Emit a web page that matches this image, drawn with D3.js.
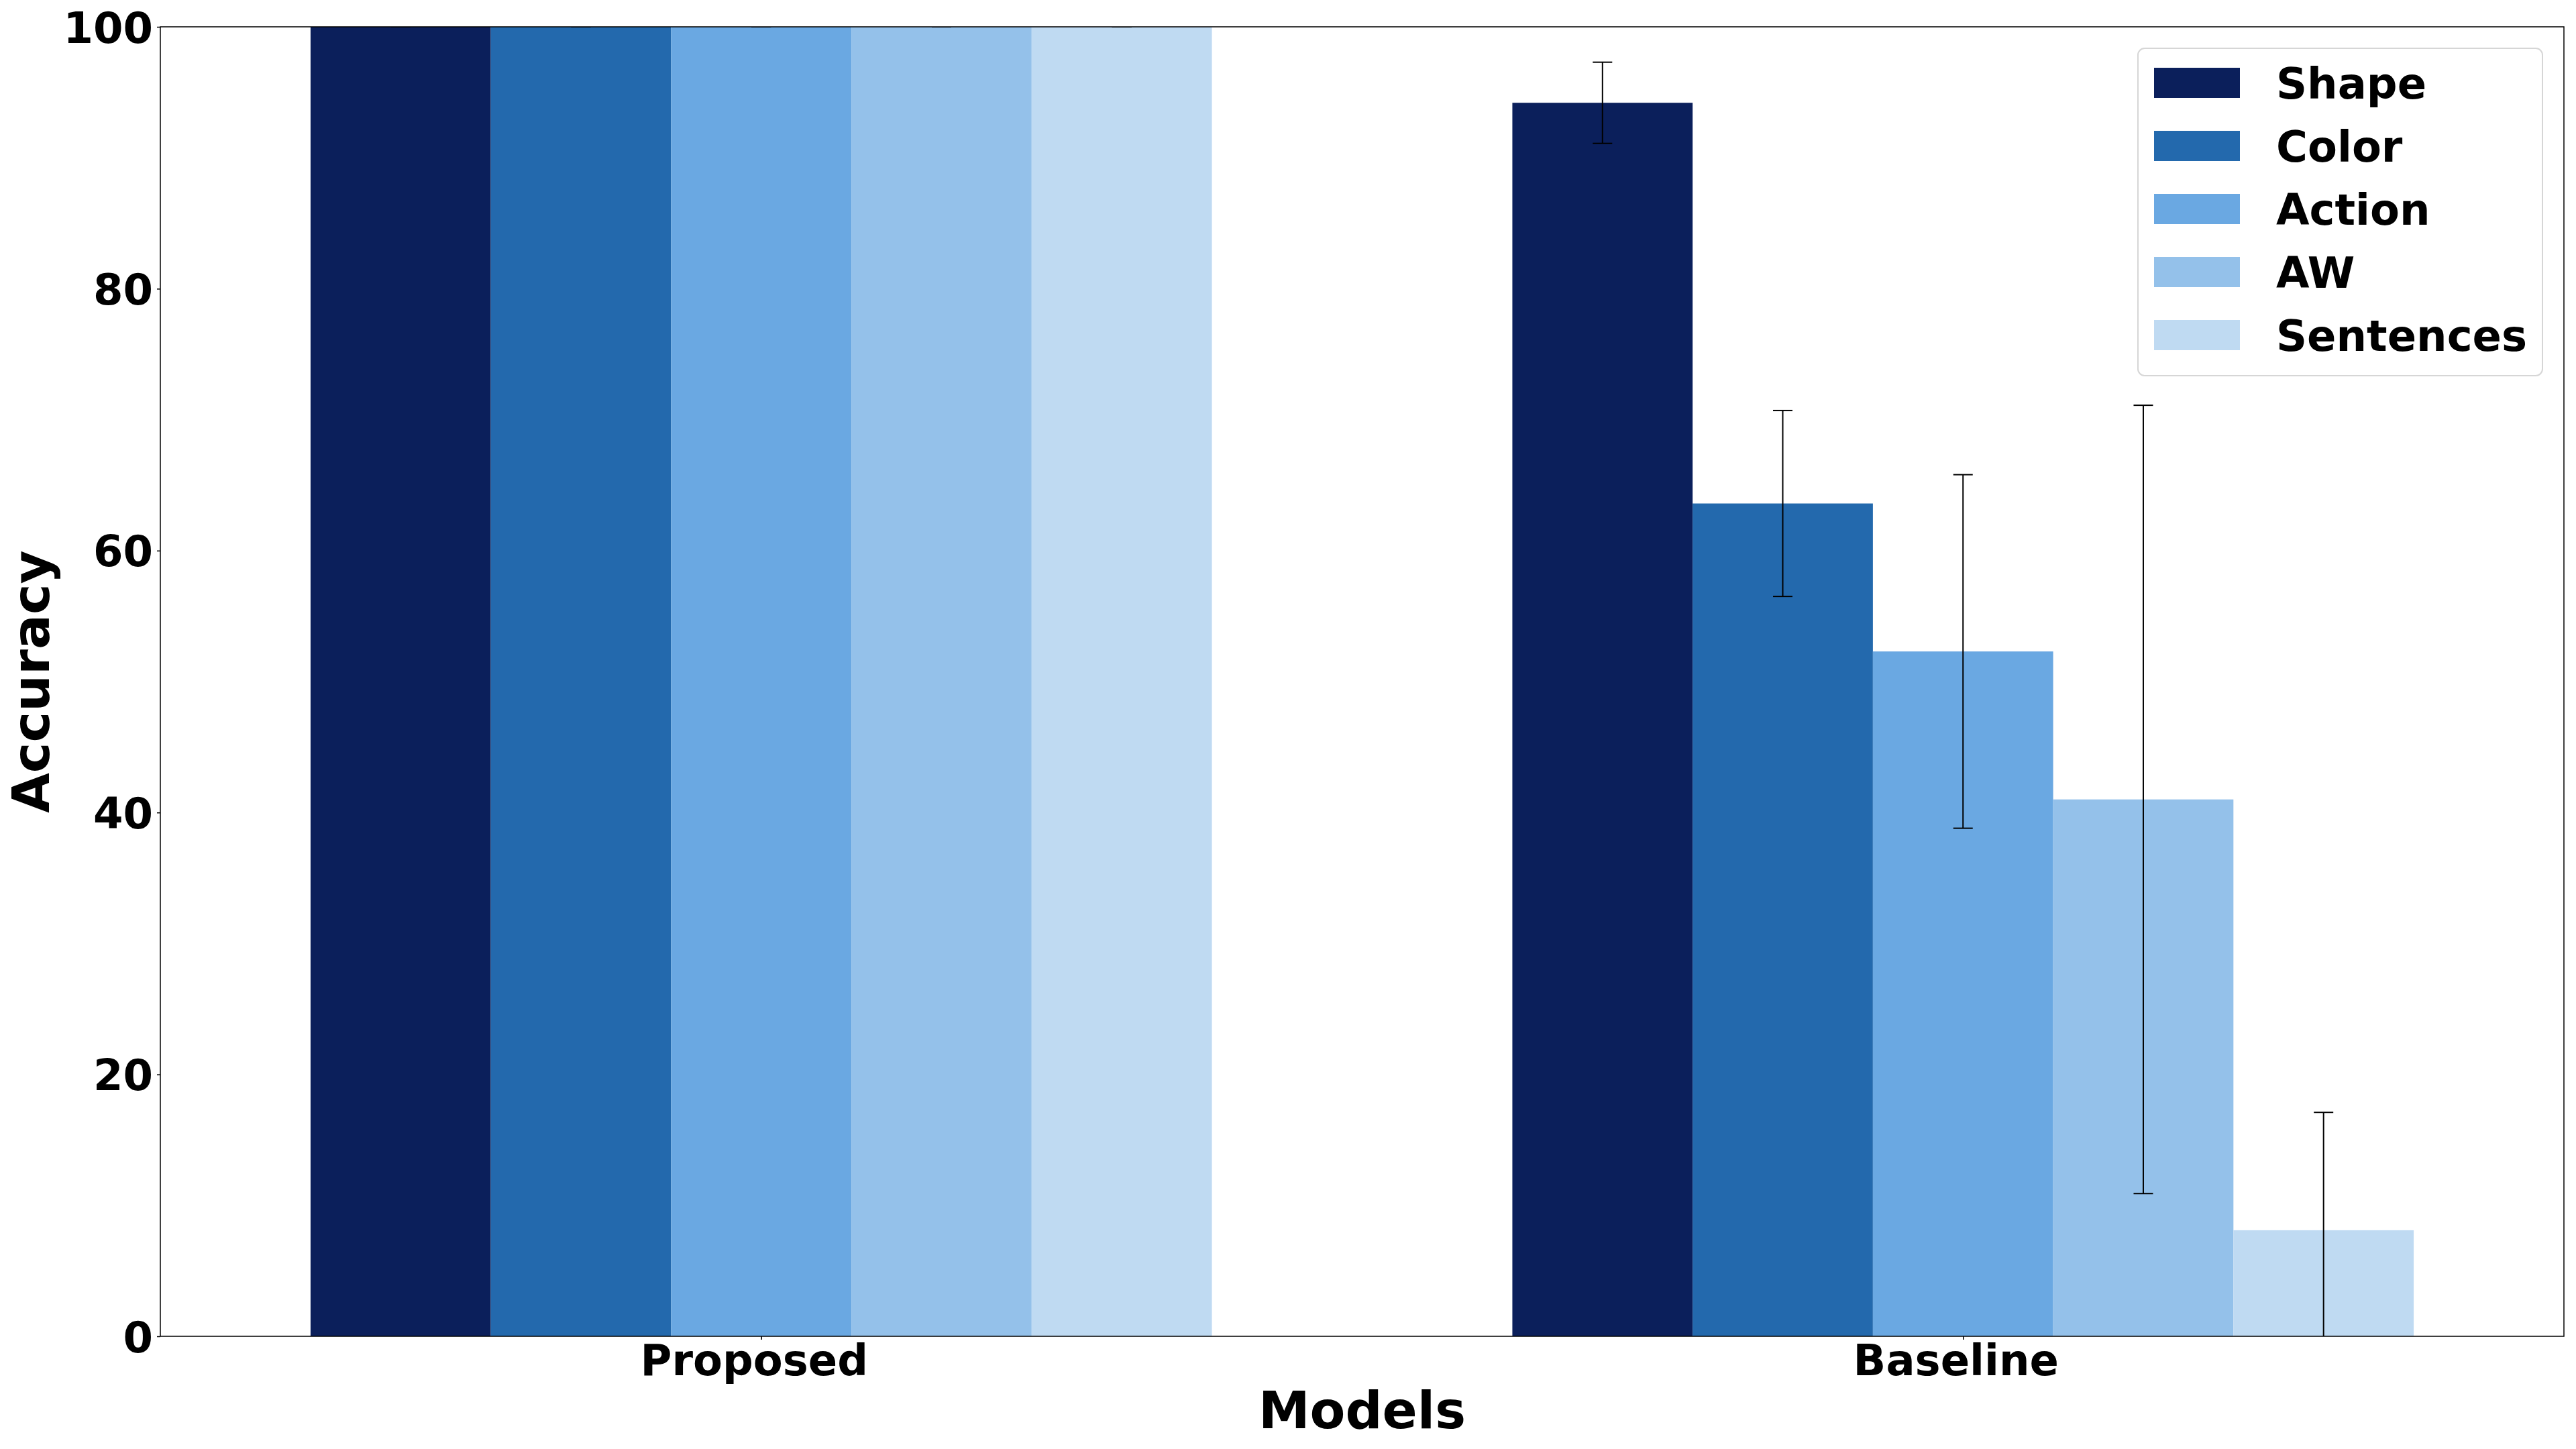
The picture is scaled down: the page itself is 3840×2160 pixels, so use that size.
<!DOCTYPE html>
<html>
<head>
<meta charset="utf-8">
<script src="https://cdn.jsdelivr.net/npm/d3@7"></script>
<style>
  body { margin: 0; background: #fff; }
  text { font-family: "DejaVu Sans", sans-serif; font-weight: bold; }
</style>
</head>
<body>
<div id="chart"></div>
<script>
// data
const models = ["Proposed", "Baseline"];
const tasks = ["Shape", "Color", "Action", "AW", "Sentences"];
const proposedAcc = [100, 100, 100, 100, 100];
const proposedErr = [0, 0, 0, 0, 0];
const baselineAcc = [94.2, 63.6, 52.3, 41.0, 8.1];
const baselineErr = [3.1, 7.1, 13.5, 30.1, 9.0];
const yTicks = [0, 20, 40, 60, 80, 100];
const colors = ["#0b1f5b", "#2369ad", "#6aa8e2", "#94c1ea", "#bfdaf2"];

const W = 3840, H = 2160;
const margin = {top: 40, right: 18, bottom: 168, left: 239};
const width = W - margin.left - margin.right,
    height = H - margin.top - margin.bottom;
const barW = 0.15;

const svg = d3.select("#chart")
  .append("svg")
  .attr("width", W)
  .attr("height", H);

const g = svg.append("g")
  .attr("transform", `translate(${margin.left}, ${margin.top})`);

g.append("clipPath").attr("id", "plot-clip")
  .append("rect").attr("width", width).attr("height", height);

const x = d3.scaleLinear().domain([-0.5, 1.5]).range([0, width]);
const y = d3.scaleLinear().domain([0, 100]).range([height, 0]);
const color = d3.scaleOrdinal().domain(tasks).range(colors);

// flat list of bars
const rows = [];
const accs = [proposedAcc, baselineAcc], errs = [proposedErr, baselineErr];
models.forEach((m, mi) => {
  tasks.forEach((t, ti) => {
    rows.push({model: m, task: t, pos: mi + (ti - 2) * barW, acc: accs[mi][ti], err: errs[mi][ti]});
  });
});

g.append("g")
  .selectAll("rect")
  .data(rows)
  .join("rect")
  .attr("x", d => x(d.pos - barW / 2))
  .attr("width", x(barW) - x(0))
  .attr("y", d => y(d.acc))
  .attr("height", d => y(0) - y(d.acc))
  .style("fill", d => color(d.task));

// error bars
const capHalf = 14.5;
const eb = g.append("g").attr("clip-path", "url(#plot-clip)")
  .selectAll("g")
  .data(rows)
  .join("g");
eb.append("line")
  .attr("x1", d => x(d.pos)).attr("x2", d => x(d.pos))
  .attr("y1", d => y(d.acc - d.err)).attr("y2", d => y(d.acc + d.err))
  .attr("stroke", "#000").attr("stroke-width", 2);
eb.append("line")
  .attr("x1", d => x(d.pos) - capHalf).attr("x2", d => x(d.pos) + capHalf)
  .attr("y1", d => y(d.acc + d.err)).attr("y2", d => y(d.acc + d.err))
  .attr("stroke", "#000").attr("stroke-width", 2);
eb.append("line")
  .attr("x1", d => x(d.pos) - capHalf).attr("x2", d => x(d.pos) + capHalf)
  .attr("y1", d => y(d.acc - d.err)).attr("y2", d => y(d.acc - d.err))
  .attr("stroke", "#000").attr("stroke-width", 2);

// axes
const xAxis = g.append("g")
  .attr("transform", `translate(0, ${height})`)
  .call(d3.axisBottom(x).tickValues([0, 1]).tickFormat(i => models[i]).tickSize(5).tickSizeOuter(0));
xAxis.select(".domain").remove();
// labels sit a little left of their ticks in the original
xAxis.selectAll("text")
  .attr("y", 58).attr("dy", 0).attr("dx", -11)
  .style("font-size", "64px").attr("fill", "#000");
xAxis.selectAll("line").attr("stroke-width", 1.5);

const yAxis = g.append("g")
  .call(d3.axisLeft(y).tickValues(yTicks).tickSize(5).tickSizeOuter(0));
yAxis.select(".domain").remove();
yAxis.selectAll("text")
  .attr("x", -11).attr("dy", "0.36em")
  .style("font-size", "64px").attr("fill", "#000");
yAxis.selectAll("line").attr("stroke-width", 1.5);

// spines
g.append("rect")
  .attr("width", width).attr("height", height)
  .attr("fill", "none").attr("stroke", "#000").attr("stroke-width", 1.5);

// axis titles
svg.append("text")
  .attr("x", margin.left + width / 2).attr("y", 2129)
  .attr("text-anchor", "middle")
  .style("font-size", "77px")
  .text("Models");

svg.append("text")
  .attr("transform", `translate(73, ${margin.top + height / 2}) rotate(-90)`)
  .attr("text-anchor", "middle")
  .style("font-size", "77px")
  .text("Accuracy");

// legend
const legend = svg.append("g");
legend.append("rect")
  .attr("x", 3187).attr("y", 72)
  .attr("width", 603).attr("height", 488)
  .attr("rx", 10).attr("ry", 10)
  .attr("fill", "#fff").attr("fill-opacity", 0.8)
  .attr("stroke", "#d6d6d6").attr("stroke-width", 2);

const item = legend.selectAll("g.item")
  .data(tasks)
  .join("g")
  .attr("class", "item")
  .attr("transform", (d, i) => `translate(0, ${i * 94})`);
item.append("rect")
  .attr("x", 3211).attr("y", 101)
  .attr("width", 128).attr("height", 45)
  .style("fill", d => color(d));
item.append("text")
  .attr("x", 3393).attr("y", 147)
  .style("font-size", "64px")
  .text(d => d);
</script>
</body>
</html>
